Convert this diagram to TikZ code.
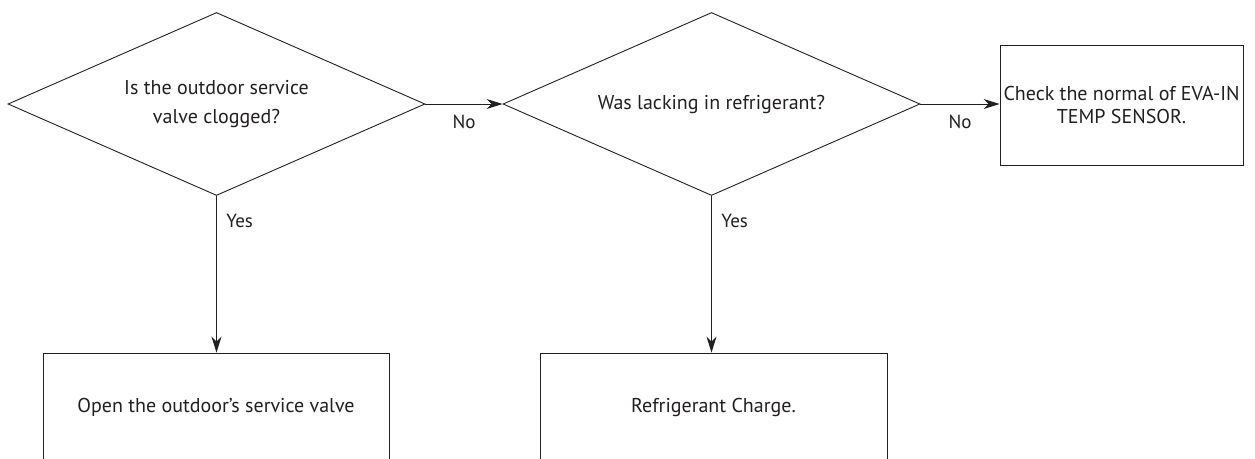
\documentclass[tikz,border=0pt]{standalone}
\usepackage{fontspec}
\setmainfont{PT Sans}
\usetikzlibrary{shapes.geometric,arrows.meta}
\definecolor{ink}{HTML}{231F20}
\begin{document}
\begin{tikzpicture}[x=1pt,y=-1pt,
  every node/.style={text=ink,font=\fontsize{20}{29}\selectfont},
  decision/.style={draw=ink,line width=0.9pt,diamond,aspect=2.28,minimum width=417pt,minimum height=183pt,inner sep=0pt,align=center},
  action/.style={draw=ink,line width=0.9pt,rectangle,inner sep=0pt,align=center},
  flow/.style={draw=ink,line width=0.9pt,-{Stealth[length=16pt,width=10pt,inset=5pt]}},
  lbl/.style={font=\fontsize{19}{20}\selectfont}]
\useasboundingbox (0,0) rectangle (1255,458);
\node[decision] (d1) at (216.5,104) {Is the outdoor service\\valve clogged?};
\node[decision] (d2) at (711.5,104) {Was lacking in refrigerant?};
\node[action,minimum width=243pt,minimum height=120pt,font=\fontsize{20}{23}\selectfont] (b3) at (1121.5,105) {Check the normal of EVA-IN\\TEMP SENSOR.};
\node[action,minimum width=346pt,minimum height=108pt] (b1) at (216,407) {Open the outdoor's service valve};
\node[action,minimum width=347pt,minimum height=108pt] (b2) at (713.5,407) {Refrigerant Charge.};
\draw[flow] (d1.east) -- (d2.west) node[lbl,midway,below=7pt] {No};
\draw[flow] (d2.east) -- (d2.east -| b3.west) node[lbl,midway,below=7pt] {No};
\draw[flow] (d1.south) -- (d1.south |- b1.north) node[lbl,pos=0.16,right=6pt] {Yes};
\draw[flow] (d2.south) -- (d2.south |- b2.north) node[lbl,pos=0.16,right=6pt] {Yes};
\end{tikzpicture}
\end{document}
